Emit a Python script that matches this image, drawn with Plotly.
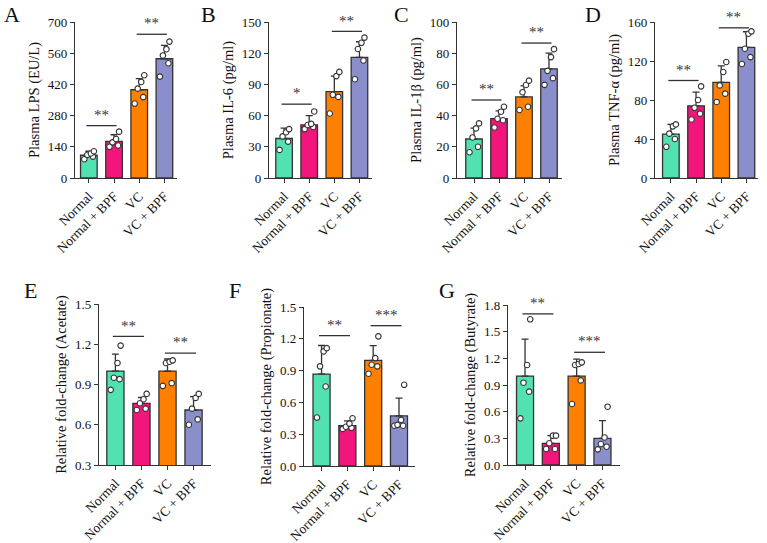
import plotly.graph_objects as go

groups = ["Normal", "Normal + BPF", "VC", "VC + BPF"]
colors = ["#52E2B1", "#F2157B", "#FF8000", "#8A8FCB"]

# panel A - LPS
lps_mean = [102, 164, 396, 535]
lps_sd = [18, 30, 50, 60]
lps_pts = [[84, 96, 104, 110, 120], [140, 146, 160, 175, 208],
           [334, 363, 401, 431, 461], [455, 515, 550, 578, 612]]

# panel B - IL-6
il6_mean = [38, 51, 83, 116]
il6_sd = [10, 9, 15, 15]
il6_pts = [[27, 35, 40, 44, 47], [47, 49, 51, 52, 64],
           [62, 78, 80, 98, 102], [95, 113, 124, 130, 135]]

# panel C - IL-1b
il1b_mean = [25, 38, 52, 70]
il1b_sd = [7, 5, 7, 10]
il1b_pts = [[16.5, 20, 26, 31.8, 35], [32.4, 37, 38, 42.5, 45.7],
            [43.6, 45.7, 55, 59.6, 62.4], [59.7, 64, 68.7, 77.5, 82.6]]

# panel D - TNF-a
tnf_mean = [45, 74, 98, 134]
tnf_sd = [10, 14, 17, 16]
tnf_pts = [[32, 40, 45.5, 53, 55], [60, 66, 72, 80, 94],
           [78, 86.5, 95, 108.7, 119], [117, 124, 132.6, 148, 150.4]]

# panel E - acetate
ace_mean = [1.0, 0.76, 1.0, 0.71]
ace_sd = [0.127, 0.043, 0.09, 0.10]
ace_pts = [[0.86, 0.94, 0.95, 1.06, 1.19], [0.71, 0.72, 0.76, 0.79, 0.83],
           [0.89, 0.91, 1.06, 1.07, 1.08], [0.60, 0.64, 0.72, 0.80, 0.83]]

# panel F - propionate
pro_mean = [0.867, 0.381, 0.996, 0.473]
pro_sd = [0.27, 0.045, 0.14, 0.167]
pro_pts = [[0.457, 0.75, 0.94, 1.081, 1.112], [0.35, 0.36, 0.37, 0.40, 0.45],
           [0.87, 0.94, 0.955, 1.018, 1.223], [0.38, 0.38, 0.388, 0.435, 0.766]]

# panel G - butyrate
but_mean = [1.0, 0.244, 1.0, 0.30]
but_sd = [0.417, 0.086, 0.19, 0.20]
but_pts = [[0.525, 0.825, 0.926, 1.125, 1.639], [0.18, 0.18, 0.244, 0.33, 0.33],
           [0.686, 0.952, 1.125, 1.136, 1.155], [0.176, 0.206, 0.236, 0.31, 0.656]]

# significance: (group i, group j, line height, label)
lps_sig = [(0, 1, 235, "**"), (2, 3, 645, "**")]
il6_sig = [(0, 1, 71, "*"), (2, 3, 141, "**")]
il1b_sig = [(0, 1, 50, "**"), (2, 3, 86.5, "**")]
tnf_sig = [(0, 1, 100, "**"), (2, 3, 154, "**")]
ace_sig = [(0, 1, 1.258, "**"), (2, 3, 1.134, "**")]
pro_sig = [(0, 1, 1.23, "**"), (2, 3, 1.324, "***")]
but_sig = [(0, 1, 1.70, "**"), (2, 3, 1.268, "***")]

FONT = "Liberation Serif"
INK = "#333333"
W, H = 767, 543

panels = [
    # letter, title, mean, sd, pts, sig, ticks, fmt, x px span, y px span, letter pos, x range
    ("A", "Plasma LPS (EU/L)", lps_mean, lps_sd, lps_pts, lps_sig,
     [0, 140, 280, 420, 560, 700], "d", (75, 177), (22, 178), (12, 14), [-0.55, 3.5]),
    ("B", "Plasma IL-6 (pg/ml)", il6_mean, il6_sd, il6_pts, il6_sig,
     [0, 30, 60, 90, 120, 150], "d", (269, 372), (22, 178), (208, 14), [-0.6, 3.5]),
    ("C", "Plasma IL-1β (pg/ml)", il1b_mean, il1b_sd, il1b_pts, il1b_sig,
     [0, 20, 40, 60, 80, 100], "d", (457, 562), (22, 178), (402, 14), [-0.68, 3.52]),
    ("D", "Plasma TNF-α (pg/ml)", tnf_mean, tnf_sd, tnf_pts, tnf_sig,
     [0, 40, 80, 120, 160], "d", (655, 758), (22, 178), (593, 14), [-0.63, 3.46]),
    ("E", "Relative fold-change (Acetate)", ace_mean, ace_sd, ace_pts, ace_sig,
     [0.3, 0.6, 0.9, 1.2, 1.5], ".1f", (99, 211), (304, 465), (30, 290), [-0.63, 3.67]),
    ("F", "Relative fold-change (Propionate)", pro_mean, pro_sd, pro_pts, pro_sig,
     [0.0, 0.3, 0.6, 0.9, 1.2, 1.5], ".1f", (304, 415), (307, 466), (235, 290), [-0.68, 3.62]),
    ("G", "Relative fold-change (Butyrate)", but_mean, but_sd, but_pts, but_sig,
     [0.0, 0.3, 0.6, 0.9, 1.2, 1.5, 1.8], ".1f", (508, 620), (305, 465), (447, 290), [-0.66, 3.68]),
]

jitter = [-0.18, 0.16, -0.06, 0.08, 0.2]

fig = go.Figure()
layout = {}
annotations = []
shapes = []

for k, (letter, title, mean, sd, pts, sig, ticks, fmt, xs, ys, lpos, xr) in enumerate(panels):
    n = k + 1
    xa = "x" if n == 1 else f"x{n}"
    ya = "y" if n == 1 else f"y{n}"

    fig.add_trace(go.Bar(
        x=list(range(4)), y=mean, width=0.66,
        marker=dict(color=colors, line=dict(color=INK, width=1.3)),
        error_y=dict(type="data", array=sd, arrayminus=[0] * 4, symmetric=False,
                     color=INK, thickness=1.3, width=3.5),
        xaxis=xa, yaxis=ya, showlegend=False,
    ))
    for i, vals in enumerate(pts):
        fig.add_trace(go.Scatter(
            x=[i + jitter[j] for j in range(len(vals))], y=vals, mode="markers",
            marker=dict(size=5.5, color="white", line=dict(color=INK, width=1.1)),
            xaxis=xa, yaxis=ya, showlegend=False, cliponaxis=False,
        ))

    ymax = ticks[-1]
    span = ymax - ticks[0]
    for (i, j, h, lab) in sig:
        shapes.append(dict(type="line", xref=xa, yref=ya, x0=i - 0.1, x1=j + 0.1,
                           y0=h, y1=h, line=dict(color=INK, width=1.3)))
        annotations.append(dict(xref=xa, yref=ya, x=(i + j) / 2, y=h + span * 0.005,
                                text=lab, showarrow=False, yanchor="bottom",
                                font=dict(family=FONT, size=15, color=INK)))

    annotations.append(dict(xref="paper", yref="paper", x=lpos[0] / W, y=1 - lpos[1] / H,
                            text=letter, showarrow=False, xanchor="center", yanchor="middle",
                            font=dict(family=FONT, size=22, color="#111")))

    key = n if n > 1 else ""
    layout[f"xaxis{key}"] = dict(
        domain=[xs[0] / W, xs[1] / W], anchor=ya, range=xr, automargin=False,
        tickvals=list(range(4)), ticktext=groups, tickangle=-45,
        showline=True, linecolor=INK, linewidth=1.4, ticks="outside",
        ticklen=4, tickcolor=INK, tickwidth=1.3, showgrid=False, zeroline=False,
        tickfont=dict(family=FONT, size=13.5, color="#111"),
    )
    layout[f"yaxis{key}"] = dict(
        domain=[1 - ys[1] / H, 1 - ys[0] / H], anchor=xa, range=[ticks[0], ymax],
        tickvals=ticks, tickformat=fmt, automargin=False,
        showline=True, linecolor=INK, linewidth=1.4, ticks="outside",
        ticklen=4, tickcolor=INK, tickwidth=1.3, showgrid=False, zeroline=False,
        tickfont=dict(family=FONT, size=13, color="#111"),
        title=dict(text=title, font=dict(family=FONT, size=14.5, color="#111"), standoff=4),
    )

fig.update_layout(
    width=W, height=H, margin=dict(l=0, r=0, t=0, b=0),
    plot_bgcolor="white", paper_bgcolor="white",
    bargap=0.3, annotations=annotations, shapes=shapes, **layout,
)

fig.write_html("out.html", config={"displayModeBar": False},
               post_script="document.body.style.margin='0';")
